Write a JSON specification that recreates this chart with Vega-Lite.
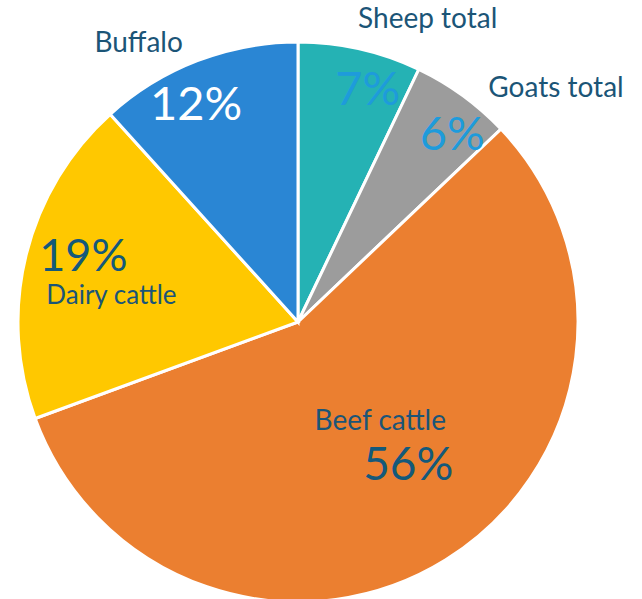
{
  "$schema": "https://vega.github.io/schema/vega-lite/v6.json",
  "width": 596,
  "height": 554,
  "autosize": {"type": "none"},
  "padding": {"left": 0, "top": 45, "right": 46, "bottom": 0},
  "background": "white",
  "config": {"view": {"stroke": null}, "text": {"font": "Lato"}},
  "data": {"values": [
    {"category": "Sheep total", "share": 7.1, "pct": "7%", "rank": 1},
    {"category": "Goats total", "share": 5.8, "pct": "6%", "rank": 2},
    {"category": "Beef cattle", "share": 56.5, "pct": "56%", "rank": 3},
    {"category": "Dairy cattle", "share": 18.9, "pct": "19%", "rank": 4},
    {"category": "Buffalo", "share": 11.7, "pct": "12%", "rank": 5}
  ]},
  "encoding": {
    "theta": {"field": "share", "type": "quantitative", "stack": true},
    "order": {"field": "rank", "type": "quantitative"}
  },
  "layer": [
    {
      "mark": {"type": "arc", "radius": 280, "stroke": "white", "strokeWidth": 3},
      "encoding": {
        "color": {
          "field": "category", "type": "nominal", "legend": null,
          "scale": {
            "domain": ["Sheep total", "Goats total", "Beef cattle", "Dairy cattle", "Buffalo"],
            "range": ["#25B2B4", "#9C9C9C", "#EB7F30", "#FFC800", "#2A86D4"]
          }
        }
      }
    },
    {
      "mark": {"type": "text", "radius": 315, "dx": 60, "dy": 13, "fontSize": 28, "color": "#1B5577", "align": "center", "baseline": "alphabetic"},
      "encoding": {"text": {"condition": {"test": "datum.category === 'Sheep total'", "field": "category", "type": "nominal"}, "value": ""}}
    },
    {
      "mark": {"type": "text", "radius": 225, "dx": 20, "dy": 2, "fontSize": 47, "color": "#1E9BDB", "align": "center", "baseline": "alphabetic"},
      "encoding": {"text": {"condition": {"test": "datum.category === 'Sheep total'", "field": "pct", "type": "nominal"}, "value": ""}}
    },
    {
      "mark": {"type": "text", "radius": 330, "dx": 64, "dy": 42, "fontSize": 28, "color": "#1B5577", "align": "center", "baseline": "alphabetic"},
      "encoding": {"text": {"condition": {"test": "datum.category === 'Goats total'", "field": "category", "type": "nominal"}, "value": ""}}
    },
    {
      "mark": {"type": "text", "radius": 230, "dx": 19, "dy": 14, "fontSize": 47, "color": "#1E9BDB", "align": "center", "baseline": "alphabetic"},
      "encoding": {"text": {"condition": {"test": "datum.category === 'Goats total'", "field": "pct", "type": "nominal"}, "value": ""}}
    },
    {
      "mark": {"type": "text", "radius": 310, "dx": -48, "dy": 19, "fontSize": 28, "color": "#1B5577", "align": "center", "baseline": "alphabetic"},
      "encoding": {"text": {"condition": {"test": "datum.category === 'Buffalo'", "field": "category", "type": "nominal"}, "value": ""}}
    },
    {
      "mark": {"type": "text", "radius": 225, "dx": -21, "dy": 8, "fontSize": 47, "color": "white", "align": "center", "baseline": "alphabetic"},
      "encoding": {"text": {"condition": {"test": "datum.category === 'Buffalo'", "field": "pct", "type": "nominal"}, "value": ""}}
    },
    {
      "mark": {"type": "text", "radius": 220, "dx": -1, "dy": 2, "fontSize": 45, "color": "#14597A", "align": "center", "baseline": "alphabetic"},
      "encoding": {"text": {"condition": {"test": "datum.category === 'Dairy cattle'", "field": "pct", "type": "nominal"}, "value": ""}}
    },
    {
      "mark": {"type": "text", "radius": 187, "dx": -5, "dy": 27, "fontSize": 26, "color": "#1B5577", "align": "center", "baseline": "alphabetic"},
      "encoding": {"text": {"condition": {"test": "datum.category === 'Dairy cattle'", "field": "category", "type": "nominal"}, "value": ""}}
    },
    {
      "mark": {"type": "text", "radius": 137, "dx": 10, "dy": -8, "fontSize": 28, "color": "#1B5577", "align": "center", "baseline": "alphabetic"},
      "encoding": {"text": {"condition": {"test": "datum.category === 'Beef cattle'", "field": "category", "type": "nominal"}, "value": ""}}
    },
    {
      "mark": {"type": "text", "radius": 190, "dx": 10, "dy": -3, "fontSize": 46, "color": "#14597A", "align": "center", "baseline": "alphabetic"},
      "encoding": {"text": {"condition": {"test": "datum.category === 'Beef cattle'", "field": "pct", "type": "nominal"}, "value": ""}}
    }
  ]
}
